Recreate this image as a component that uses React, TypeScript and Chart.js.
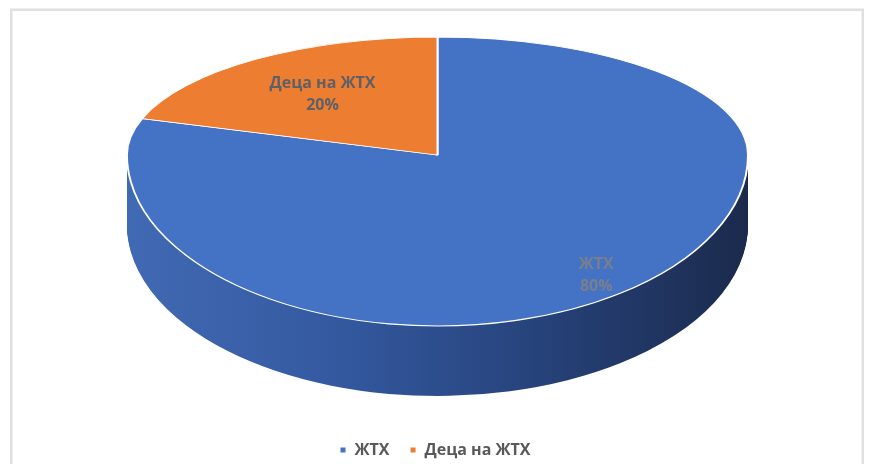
import { useEffect, useRef } from "react";
import { Chart, registerables } from "chart.js";

Chart.register(...registerables);

// ---- data ----
const categories = ["ЖТХ", "Деца на ЖТХ"];
const values = [80, 20];

// ---- style ----
const sliceColors = ["#4472C4", "#ED7D31"];
const sideStops = [
  ["#416ab4", "#3459a0", "#26427a", "#1b2a4c"],
  ["#c8661f", "#8a4515", "#6a3410", "#4e260b"],
];
const labelRadius = [0.87, 0.63];
const labelColor = ["#7a7f8c", "#5e6068"];
const FONT = '"Open Sans", "Liberation Sans", Arial, sans-serif';

// ---- layout ----
const W = 870;
const H = 464;
const CX = 437.5;
const CY = 155;
const R = 310.5;
const RY_BACK = 118;
const RY_FRONT = 171;
const DEPTH = 70;

const pie3d = {
  id: "pie3d",
  beforeDraw(chart: any) {
    const ctx = chart.ctx;
    ctx.save();
    ctx.fillStyle = "#ffffff";
    ctx.fillRect(0, 0, W, H);
    ctx.strokeStyle = "#e0e0e0";
    ctx.lineWidth = 2.5;
    ctx.strokeRect(11.25, 9.75, 851.5, 480);
    ctx.restore();
  },
  beforeDatasetDraw(chart: any, args: any) {
    const ctx = chart.ctx;
    const arcs = args.meta.data;
    if (!arcs.length) return;
    const ax = arcs[0].x;
    const ay = arcs[0].y;
    const place = (sy: number, dy: number) => {
      ctx.translate(CX, CY + dy);
      ctx.scale(1, sy);
      ctx.translate(-ax, -ay);
    };
    // side wall
    for (let k = DEPTH; k >= 1; k--) {
      ctx.save();
      ctx.beginPath();
      ctx.rect(0, CY, W, H - CY);
      ctx.clip();
      place(RY_FRONT / R, k);
      arcs.forEach((arc: any, i: number) => {
        const g = ctx.createLinearGradient(ax - R, 0, ax + R, 0);
        const st = sideStops[i];
        st.forEach((c, j) => g.addColorStop(j / (st.length - 1), c));
        const fake = Object.create(arc);
        fake.options = { ...arc.options, backgroundColor: g, borderWidth: 0 };
        fake.draw(ctx);
      });
      ctx.restore();
    }
    // top face: back half and front half
    const halves: [number, number, number][] = [
      [0, CY, RY_BACK],
      [CY, H, RY_FRONT],
    ];
    halves.forEach(([y0, y1, ry]) => {
      ctx.save();
      ctx.beginPath();
      ctx.rect(0, y0, W, y1 - y0);
      ctx.clip();
      place(ry / R, 0);
      arcs.forEach((arc: any) => arc.draw(ctx));
      ctx.restore();
    });
    return false;
  },
  afterDatasetsDraw(chart: any) {
    const ctx = chart.ctx;
    const meta = chart.getDatasetMeta(0);
    const total = values.reduce((a, b) => a + b, 0);
    ctx.save();
    ctx.font = `bold 16px ${FONT}`;
    ctx.textAlign = "center";
    ctx.textBaseline = "middle";
    meta.data.forEach((arc: any, i: number) => {
      const a = (arc.startAngle + arc.endAngle) / 2;
      const rf = labelRadius[i];
      const s = Math.sin(a);
      const x = CX + R * rf * Math.cos(a);
      const y = CY + (s < 0 ? RY_BACK : RY_FRONT) * rf * s;
      const pct = Math.round((values[i] / total) * 100) + "%";
      ctx.fillStyle = labelColor[i];
      ctx.fillText(categories[i], x, y - 11);
      ctx.fillText(pct, x, y + 11);
    });
    ctx.restore();
  },
};

export default function App() {
  const ref = useRef<HTMLCanvasElement | null>(null);
  useEffect(() => {
    if (!ref.current) return;
    const chart = new Chart(ref.current, {
      type: "pie",
      data: {
        labels: categories,
        datasets: [
          {
            data: values,
            backgroundColor: sliceColors,
            borderColor: "#ffffff",
            borderWidth: 2,
            radius: R,
            clip: false,
          } as any,
        ],
      },
      options: {
        animation: false,
        responsive: true,
        maintainAspectRatio: false,
        layout: { padding: { bottom: -4 } },
        plugins: {
          tooltip: { enabled: false },
          legend: {
            position: "bottom",
            labels: {
              usePointStyle: true,
              pointStyle: "rect",
              boxWidth: 7,
              boxHeight: 7,
              padding: 20,
              color: "#595959",
              font: { family: FONT, size: 16, weight: "bold" },
            },
          },
        },
      },
      plugins: [pie3d],
    });
    return () => chart.destroy();
  }, []);
  return (
    <div style={{ position: "fixed", left: 0, top: 0, width: W, height: H }}>
      <canvas ref={ref} />
    </div>
  );
}
